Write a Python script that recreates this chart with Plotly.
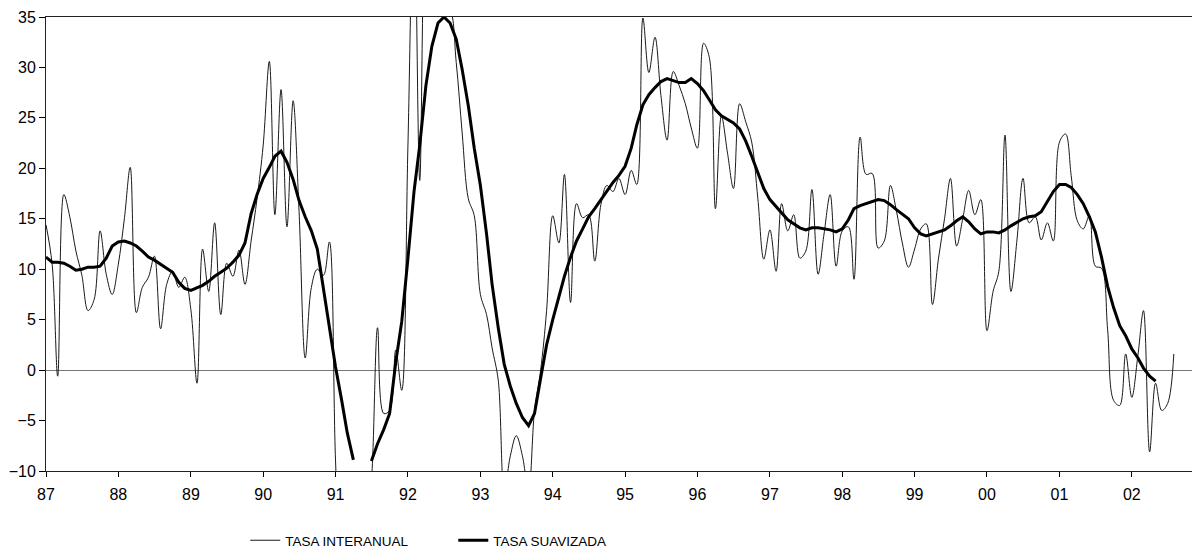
import plotly.graph_objects as go
import pandas as pd

# monthly data, Jan 1987 onwards
tasa_interanual = [
    14.4, 10.5, -0.6, 17.4, 15.2, 11.8, 9.4, 5.9, 7.0, 13.8, 9.5, 7.5,      # 87
    10.5, 15.1, 20.1, 5.7, 8.2, 9.2, 11.3, 4.1, 8.5, 9.8, 8.2, 9.2,         # 88
    6.0, -1.3, 12.0, 7.8, 14.6, 5.5, 10.6, 9.3, 11.9, 8.5, 12.8, 17.0,      # 89
    22.3, 30.6, 15.4, 27.8, 14.2, 26.7, 15.7, 1.2, 8.2, 10.0, 9.4, 12.7,    # 90
    -9.0, -22.0, -25.0, -24.0, -20.0, -16.0, -11.0, 4.2, -4.3, -4.0, 2.0, -2.0,  # 91
    22.0, 48.0, 18.8, 45.0, 40.0, 35.5, 35.0, 35.5, 30.5, 23.5, 17.0, 15.3,  # 92
    7.5, 5.5, 2.2, -1.0, -12.0, -8.5, -6.5, -8.5, -12.0, -4.0, 0.0, 5.9,    # 93
    15.3, 12.6, 19.4, 6.7, 16.5, 15.1, 15.4, 10.8, 16.4, 18.3, 17.7, 19.0,  # 94
    17.4, 19.8, 18.4, 34.9, 29.5, 33.0, 27.2, 22.8, 29.6, 28.2, 26.4, 24.0, # 95
    22.0, 32.4, 31.0, 16.0, 25.2, 21.5, 18.0, 26.4, 24.6, 22.6, 17.0, 11.0, # 96
    13.9, 9.8, 16.5, 13.8, 15.4, 11.1, 11.8, 17.9, 9.5, 13.5, 17.4, 10.3,   # 97
    13.8, 14.2, 9.0, 23.1, 19.4, 19.5, 12.1, 12.8, 18.3, 15.8, 12.5, 10.2,  # 98
    12.0, 14.0, 14.5, 6.5, 11.0, 15.0, 19.0, 12.3, 15.0, 17.8, 15.4, 16.9,  # 99
    3.9, 7.8, 9.8, 23.3, 7.8, 13.0, 19.0, 14.6, 15.2, 12.9, 14.6, 12.8,     # 00
    22.6, 23.4, 19.3, 14.8, 14.0, 15.3, 10.3, 10.1, 4.0, -3.0, -3.5, 1.6,   # 01
    -2.7, 1.5, 5.9, -8.1, -1.3, -4.0, -3.3, 1.6,                            # 02
]

tasa_suavizada = [
    11.2, 10.7, 10.7, 10.6, 10.3, 9.9, 10.0, 10.2, 10.2, 10.3, 11.1, 12.3,  # 87
    12.7, 12.8, 12.6, 12.3, 11.8, 11.2, 10.9, 10.5, 10.1, 9.7, 8.7, 8.1,    # 88
    7.9, 8.2, 8.4, 8.8, 9.3, 9.7, 10.1, 10.7, 11.4, 12.6, 15.5, 17.4,       # 89
    19.0, 20.1, 21.2, 21.7, 20.6, 18.9, 16.8, 15.2, 13.8, 12.0, 8.2, 4.3,   # 90
    0.3, -3.0, -6.2, -8.9, None, None, -9.0, -7.3, -5.9, -4.3, 0.8, 4.8,    # 91
    11.0, 17.7, 22.3, 28.2, 32.1, 34.4, 35.0, 34.4, 32.8, 29.8, 26.2, 22.0, # 92
    18.3, 13.5, 8.5, 4.2, 0.6, -1.6, -3.3, -4.7, -5.5, -4.3, -0.8, 2.5,     # 93
    5.0, 7.3, 9.3, 11.2, 12.8, 14.0, 15.2, 16.0, 16.9, 17.8, 18.6, 19.3,    # 94
    20.2, 22.0, 24.3, 26.3, 27.3, 28.0, 28.6, 28.9, 28.7, 28.5, 28.5, 28.9, # 95
    28.4, 27.7, 26.8, 25.8, 25.2, 24.8, 24.5, 23.9, 22.7, 21.2, 19.5, 18.0, # 96
    16.9, 16.2, 15.5, 14.9, 14.5, 14.1, 13.9, 14.1, 14.1, 14.0, 13.9, 13.7, # 97
    14.0, 14.9, 16.0, 16.3, 16.5, 16.7, 16.9, 16.8, 16.4, 15.9, 15.4, 15.0, # 98
    14.1, 13.5, 13.3, 13.5, 13.7, 13.9, 14.3, 14.8, 15.2, 14.7, 14.0, 13.5, # 99
    13.7, 13.7, 13.6, 13.9, 14.3, 14.7, 15.0, 15.2, 15.3, 15.7, 16.7, 17.7, # 00
    18.4, 18.4, 18.1, 17.4, 16.5, 15.2, 13.7, 11.2, 8.3, 6.2, 4.4, 3.4,     # 01
    2.1, 1.2, 0.2, -0.6, -1.1,                                              # 02
]

fechas_thin = pd.date_range("1987-01-01", periods=len(tasa_interanual), freq="MS")
fechas_thick = pd.date_range("1987-01-01", periods=len(tasa_suavizada), freq="MS")

font = "Liberation Sans, Arial, sans-serif"

fig = go.Figure()
fig.add_trace(go.Scatter(
    x=fechas_thin, y=tasa_interanual, mode="lines", name="TASA INTERANUAL",
    line=dict(color="#1a1a1a", width=1, shape="spline", smoothing=1.0),
))
fig.add_trace(go.Scatter(
    x=fechas_thick, y=tasa_suavizada, mode="lines", name="TASA SUAVIZADA",
    line=dict(color="black", width=3), connectgaps=False,
))

# page body has an 8px margin, so the figure is sized to fit the window
fig.update_layout(
    width=1192, height=552,
    margin=dict(l=37, r=1, t=6, b=89),
    paper_bgcolor="white", plot_bgcolor="white",
    font=dict(family=font, size=16, color="black"),
    showlegend=True,
    legend=dict(orientation="h", x=0.173, y=-0.153, xanchor="left", yanchor="middle",
                font=dict(size=13.5), entrywidth=163, bgcolor="rgba(0,0,0,0)"),
)
fig.update_xaxes(
    range=["1987-01-01", "2002-12-01"], tick0="1987-01-01", dtick="M12", tickformat="%y",
    ticks="outside", ticklen=5, tickcolor="black", showline=True, linecolor="#222",
    linewidth=1, mirror=True, showgrid=False, zeroline=False, ticklabelstandoff=4,
    ticklabeloverflow="allow",
)
fig.update_yaxes(
    range=[-10, 35], dtick=5, ticks="outside", ticklen=6, tickcolor="black",
    showline=True, linecolor="#222", linewidth=1, mirror=True, showgrid=False,
    zeroline=True, zerolinecolor="#777", zerolinewidth=1, ticklabeloverflow="allow",
)

fig.write_html("out.html")
